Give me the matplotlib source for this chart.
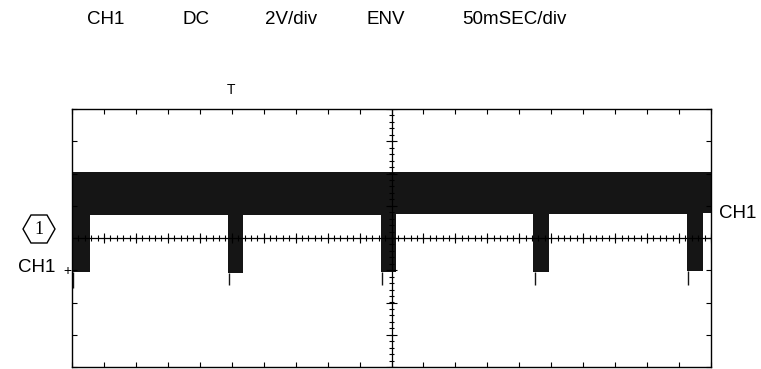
import matplotlib.pyplot as plt
import numpy as np
from matplotlib.patches import Polygon

plt.rcParams['font.family'] = ['Liberation Sans', 'DejaVu Sans']

# scope settings shown along the top
header = ["CH1", "DC", "2V/div", "ENV", "50mSEC/div"]
header_x = [87, 182, 265, 367, 462]  # left edge of each word, px

# envelope trace, in divisions (x: 0..20, y: -4..4)
dip_start = [0.0, 4.88, 9.66, 14.44, 19.25]
dip_end = [0.56, 5.34, 10.13, 14.94, 19.75]
dip_bottom = [-1.06, -1.07, -1.06, -1.06, -1.03]
spike_bottom = [-1.55, -1.45, -1.47, -1.47, -1.45]
band_top = [2.06, 2.06, 2.06, 2.06, 2.06]
band_bottom = [0.70, 0.72, 0.73, 0.73, 0.78]

W, H = 761, 369
fig = plt.figure(figsize=(W/100, H/100), dpi=100)
ax = fig.add_axes([72/W, 2/H, 639/W, 258/H])
ax.set_xlim(0, 20)
ax.set_ylim(-4, 4)

for s in ax.spines.values():
    s.set_linewidth(1.0)
ax.set_xticks(np.arange(0, 21, 1))
ax.set_yticks(np.arange(-4, 5, 1))
ax.tick_params(direction='in', length=3.5, width=0.8, top=True, right=True,
               labelbottom=False, labelleft=False)

# centre graticule lines with small ticks
ax.axhline(0, color='k', lw=0.9)
ax.axvline(10, color='k', lw=0.9)
minor_x = np.arange(0, 20.01, 0.2)
ax.vlines(minor_x, -0.09, 0.09, color='k', lw=0.8)
ax.vlines(np.arange(0, 21, 1), -0.17, 0.17, color='k', lw=0.8)
minor_y = np.arange(-4, 4.01, 0.2)
ax.hlines(minor_y, 9.91, 10.09, color='k', lw=0.8)
ax.hlines(np.arange(-4, 5, 1), 9.83, 10.17, color='k', lw=0.8)

# the trace: band between pulses, dips at each pulse
for i in range(len(dip_start)):
    ax.fill_between([dip_start[i], dip_end[i]], dip_bottom[i], band_top[i],
                    color='#151515', lw=0)
    ax.vlines(dip_start[i] + 0.04, spike_bottom[i], dip_bottom[i], color='#151515', lw=1)
    seg_end = dip_start[i + 1] if i + 1 < len(dip_start) else 20
    ax.fill_between([dip_end[i], seg_end], band_bottom[i], band_top[i],
                    color='#151515', lw=0)

# labels around the screen
for t, x in zip(header, header_x):
    fig.text(x/W, 1 - 20/H, t, fontsize=13.5, ha='left', va='center')
fig.text(227/W, 1 - 90/H, "T", fontsize=10, ha='left', va='center')

hexpts = [(23, 229), (31, 215), (47, 215), (55, 229), (47, 243), (31, 243)]
fig.add_artist(Polygon([(x/W, 1 - y/H) for x, y in hexpts], closed=True,
                       fill=False, ec='k', lw=1, transform=fig.transFigure))
fig.text(39/W, 1 - 229/H, "1", fontsize=13, ha='center', va='center',
         family=['Liberation Serif', 'DejaVu Serif'])
fig.text(18/W, 1 - 267/H, "CH1", fontsize=13.5, ha='left', va='center')
fig.text(67/W, 1 - 271/H, "+", fontsize=10, ha='center', va='center')
fig.text(719/W, 1 - 213/H, "CH1", fontsize=13.5, ha='left', va='center')

fig.savefig("out.png", dpi=100)
